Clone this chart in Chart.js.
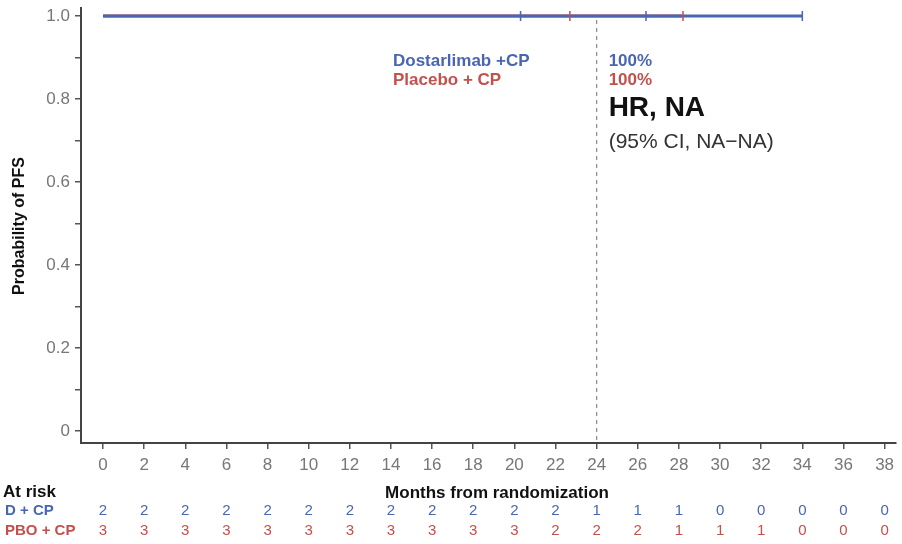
<!DOCTYPE html>
<html lang="en">
<head>
  <meta charset="UTF-8">
  <title>PFS Kaplan-Meier</title>
  <script src="https://cdn.jsdelivr.net/npm/chart.js"></script>
  <style>
    body { margin: 0; background: #fff; }
    .wrap { width: 902px; height: 544px; }
  </style>
</head>
<body>
  <div class="wrap"><canvas id="kmChart" width="902" height="544"></canvas></div>

  <script>
    // Data
    const months = [0, 2, 4, 6, 8, 10, 12, 14, 16, 18, 20, 22, 24, 26, 28, 30, 32, 34, 36, 38];
    const atRiskD   = [2, 2, 2, 2, 2, 2, 2, 2, 2, 2, 2, 2, 1, 1, 1, 0, 0, 0, 0, 0];
    const atRiskPBO = [3, 3, 3, 3, 3, 3, 3, 3, 3, 3, 3, 2, 2, 2, 1, 1, 1, 0, 0, 0];
    const yTickValues = [0, 0.1, 0.2, 0.3, 0.4, 0.5, 0.6, 0.7, 0.8, 0.9, 1.0];

    const dTimes = [0, 34.0];
    const dSurv = [1, 1];
    const pboTimes = [0, 28.2];
    const pboSurv = [1, 1];
    const dCensor = [20.3, 26.4, 34.0];
    const pboCensor = [22.7, 28.2];
    const medianMark = 24;

    const BLUE = "#4a66b2";
    const RED = "#c4504c";
    const FONT = "'Liberation Sans', Arial, sans-serif";

    const toPts = (xs, ys) => xs.map((x, i) => ({ x: x, y: ys[i] }));

    const overlay = {
      id: "overlay",
      afterDatasetsDraw(chart) {
        const ctx = chart.ctx;
        const xs = chart.scales.x;
        const ys = chart.scales.y;
        const area = chart.chartArea;
        ctx.save();

        // dashed reference line at 24 months
        const xm = xs.getPixelForValue(medianMark);
        ctx.strokeStyle = "#888";
        ctx.lineWidth = 1.2;
        ctx.setLineDash([4, 4]);
        ctx.beginPath();
        ctx.moveTo(xm, ys.getPixelForValue(0.99));
        ctx.lineTo(xm, area.bottom);
        ctx.stroke();
        ctx.setLineDash([]);

        // y axis title
        ctx.save();
        ctx.translate(20, 226);
        ctx.rotate(-Math.PI / 2);
        ctx.textAlign = "center";
        ctx.textBaseline = "middle";
        ctx.fillStyle = "#111";
        ctx.font = "bold 16px " + FONT;
        ctx.fillText("Probability of PFS", 0, 0);
        ctx.restore();

        // legend / HR text
        ctx.textBaseline = "middle";
        ctx.textAlign = "left";
        ctx.font = "bold 17px " + FONT;
        ctx.fillStyle = BLUE;
        ctx.fillText("Dostarlimab +CP", 393, 61);
        ctx.fillText("100%", xm + 12, 61);
        ctx.fillStyle = RED;
        ctx.fillText("Placebo + CP", 393, 80);
        ctx.fillText("100%", xm + 12, 80);
        ctx.fillStyle = "#111";
        ctx.font = "bold 28px " + FONT;
        ctx.fillText("HR, NA", xm + 12, 108);
        ctx.fillStyle = "#333";
        ctx.font = "21px " + FONT;
        ctx.fillText("(95% CI, NA\u2212NA)", xm + 12, 142);

        // x axis title
        ctx.textAlign = "center";
        ctx.fillStyle = "#111";
        ctx.font = "bold 17px " + FONT;
        ctx.fillText("Months from randomization", 497, 493);

        // at-risk table
        ctx.textAlign = "left";
        ctx.fillText("At risk", 3, 492);
        ctx.font = "bold 15px " + FONT;
        ctx.fillStyle = BLUE;
        ctx.fillText("D + CP", 5, 511);
        ctx.fillStyle = RED;
        ctx.fillText("PBO + CP", 5, 531);

        ctx.textAlign = "center";
        ctx.font = "15px " + FONT;
        months.forEach((m, i) => {
          const px = xs.getPixelForValue(m);
          ctx.fillStyle = BLUE;
          ctx.fillText(String(atRiskD[i]), px, 511);
          ctx.fillStyle = RED;
          ctx.fillText(String(atRiskPBO[i]), px, 531);
        });
        ctx.restore();
      }
    };

    const ctx = document.getElementById("kmChart").getContext("2d");
    new Chart(ctx, {
      type: "line",
      data: {
        datasets: [
          {
            label: "Placebo + CP",
            data: toPts(pboTimes, pboSurv),
            borderColor: RED,
            borderWidth: 3,
            stepped: true,
            pointRadius: 0,
            order: 4
          },
          {
            label: "Dostarlimab + CP",
            data: toPts(dTimes, dSurv),
            borderColor: BLUE,
            borderWidth: 3,
            stepped: true,
            pointRadius: 0,
            order: 3
          },
          {
            label: "D censored",
            data: dCensor.map(x => ({ x: x, y: 1 })),
            showLine: false,
            pointStyle: "line",
            rotation: 90,
            pointRadius: 5,
            borderColor: BLUE,
            borderWidth: 1.5,
            order: 2
          },
          {
            label: "PBO censored",
            data: pboCensor.map(x => ({ x: x, y: 1 })),
            showLine: false,
            pointStyle: "line",
            rotation: 90,
            pointRadius: 5,
            borderColor: RED,
            borderWidth: 1.5,
            order: 1
          }
        ]
      },
      options: {
        responsive: false,
        animation: false,
        layout: { padding: { left: 0, top: 8, right: 0, bottom: 61 } },
        plugins: {
          legend: { display: false },
          tooltip: { enabled: false }
        },
        scales: {
          x: {
            type: "linear",
            min: -1.07,
            max: 38.53,
            afterBuildTicks: s => { s.ticks = months.map(v => ({ value: v })); },
            afterFit: s => { s.height = 40; },
            grid: { drawOnChartArea: false, drawTicks: true, tickLength: 6, color: "#555", lineWidth: 1.5 },
            border: { display: true, color: "#444", width: 2 },
            ticks: {
              color: "#777",
              font: { family: FONT, size: 17 },
              padding: 6,
              maxRotation: 0,
              autoSkip: false
            }
          },
          y: {
            type: "linear",
            min: -0.029,
            max: 1.019,
            afterBuildTicks: s => { s.ticks = yTickValues.map(v => ({ value: v })); },
            afterFit: s => { s.width = 81; s.paddingTop = 0; s.paddingBottom = 0; },
            grid: { drawOnChartArea: false, drawTicks: true, tickLength: 6, color: "#555", lineWidth: 1.5 },
            border: { display: true, color: "#444", width: 2 },
            ticks: {
              color: "#777",
              font: { family: FONT, size: 17 },
              padding: 5,
              autoSkip: false,
              callback: v => {
                const r = Math.round(v * 10);
                if (r % 2 !== 0) return "";
                if (r === 0) return "0";
                return (r / 10).toFixed(1);
              }
            }
          }
        }
      },
      plugins: [overlay]
    });
  </script>
</body>
</html>
